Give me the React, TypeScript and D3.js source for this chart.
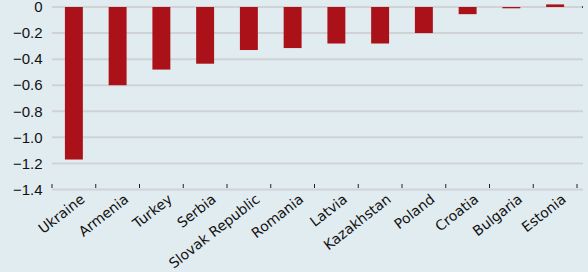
import React from "react";
import * as d3 from "d3";

const countries = [
  "Ukraine",
  "Armenia",
  "Turkey",
  "Serbia",
  "Slovak Republic",
  "Romania",
  "Latvia",
  "Kazakhstan",
  "Poland",
  "Croatia",
  "Bulgaria",
  "Estonia",
];
const values = [-1.17, -0.6, -0.48, -0.435, -0.33, -0.315, -0.28, -0.28, -0.2, -0.055, -0.01, 0.02];
const yTicks = [0, -0.2, -0.4, -0.6, -0.8, -1.0, -1.2, -1.4];

const W = 588;
const H = 272;
const BG = "#e1ecf0";
const GRID = "#cfd3d5";
const BAR = "#ab1118";

const App = () => {
  const x = d3.scaleBand<string>().domain(countries).range([52, 577]).padding(0);
  const y = d3.scaleLinear().domain([-1.4, 0]).range([189.5, 7]);
  const bw = x.bandwidth();
  const barW = bw * 0.41;
  const fmt = (v: number) => (v === 0 ? "0" : d3.format(".1f")(v));

  // tick marks sit on the band edges
  const bounds = [...countries.map((c) => x(c) as number), 577];

  return (
    <svg width={W} height={H} style={{ display: "block", position: "absolute", left: 0, top: 0 }}>
      <rect width={W} height={H} fill={BG} />
      {yTicks.map((t) => (
        <g key={t}>
          <line x1={52} x2={583} y1={y(t)} y2={y(t)} stroke={GRID} strokeWidth={2} />
          <text
            x={42.5}
            y={y(t)}
            dy="0.35em"
            textAnchor="end"
            fontFamily="'Liberation Sans', Arial, sans-serif"
            fontSize={15}
            fill="#111"
          >
            {fmt(t)}
          </text>
        </g>
      ))}
      {bounds.map((b, i) => (
        <line key={i} x1={b} x2={b} y1={y(-1.4) - 5.5} y2={y(-1.4) - 1.5} stroke="#222" strokeWidth={1} />
      ))}
      <line x1={582.5} x2={582.5} y1={y(0) - 1} y2={y(0) + 1} stroke="#444" strokeWidth={1} />
      {countries.map((c, i) => {
        const v = values[i];
        return (
          <rect
            key={c}
            x={(x(c) as number) + (bw - barW) / 2}
            width={barW}
            y={y(Math.max(0, v))}
            height={Math.abs(y(v) - y(0))}
            fill={BAR}
          />
        );
      })}
      {countries.map((c) => {
        const cx = (x(c) as number) + bw / 2;
        return (
          <text
            key={c}
            transform={`translate(${cx + 12},${201}) rotate(-38)`}
            textAnchor="end"
            fontFamily="'DejaVu Sans', Verdana, sans-serif"
            fontSize={14}
            fill="#111"
          >
            {c}
          </text>
        );
      })}
    </svg>
  );
};

export default App;
